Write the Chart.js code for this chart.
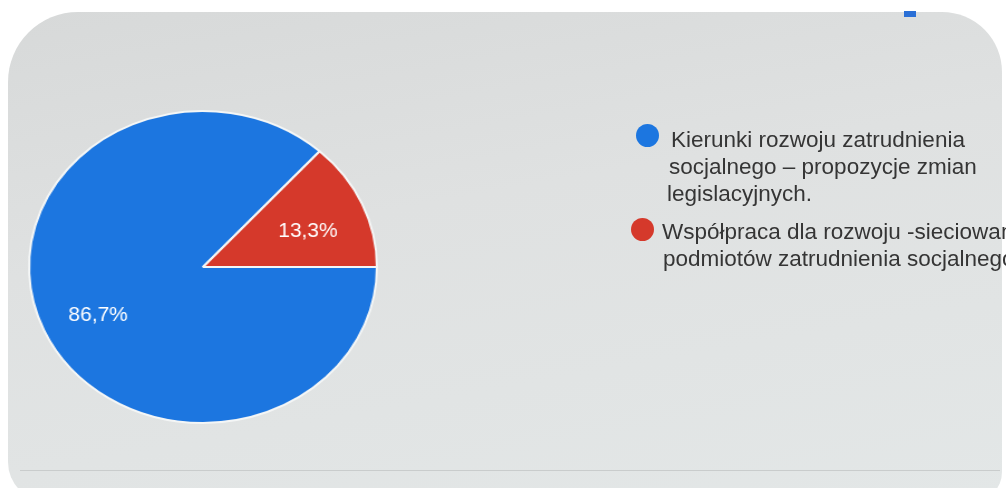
<!DOCTYPE html>
<html>
<head>
<meta charset="utf-8">
<script src="https://cdn.jsdelivr.net/npm/chart.js@4/dist/chart.umd.min.js"></script>
<style>
  html,body{margin:0;padding:0;background:#fff;overflow:hidden}
  #frame{position:absolute;left:8px;top:12px;width:994px;height:490px;border-radius:70px 60px 30px 40px;
    background:linear-gradient(170deg,#d7d9d9 0%,#dfe1e1 40%,#e3e7e7 100%);overflow:hidden}
  #mark{position:absolute;left:904px;top:11px;width:12px;height:6px;background:#2a6fd6}
  #wrap{position:absolute;left:0;top:0;width:1006px;height:488px;transform:scale(1.115,1);transform-origin:203px 267px}
  #legend{position:absolute;left:0;top:0;font-family:"Liberation Sans",Arial,sans-serif;font-size:22.5px;color:#353535}
  .item{position:absolute;white-space:nowrap;line-height:27px}
  .dot{position:absolute;width:23px;height:23px;border-radius:50%}
  #bottomline{position:absolute;left:20px;top:470px;width:980px;height:1px;background:#c9cccc}
</style>
</head>
<body>
<div id="frame"></div>
<div id="bottomline"></div>
<div id="mark"></div>
<div id="wrap"><canvas id="c"></canvas></div>
<div id="legend"></div>
<script>
const labels = ['Kierunki rozwoju zatrudnienia socjalnego – propozycje zmian legislacyjnych.', 'Współpraca dla rozwoju -sieciowanie podmiotów zatrudnienia socjalnego'];
const legendLines = [
  ['Kierunki rozwoju zatrudnienia', 'socjalnego – propozycje zmian', 'legislacyjnych.'],
  ['Współpraca dla rozwoju -sieciowanie', 'podmiotów zatrudnienia socjalnego']
];
const values = [86.7, 13.3];
const pctText = ['86,7%', '13,3%'];
const colors = ['#1c76e0', '#d5392b'];

// labels inside slices, Google style
const sliceLabels = {
  id:'sliceLabels',
  afterDatasetsDraw(chart){
    const ctx = chart.ctx;
    const meta = chart.getDatasetMeta(0);
    ctx.save();
    ctx.fillStyle = '#fff';
    ctx.font = '21px "Liberation Sans", Arial, sans-serif';
    ctx.textAlign = 'center'; ctx.textBaseline = 'middle';
    meta.data.forEach((arc,i)=>{
      const mid = (arc.startAngle + arc.endAngle)/2;
      const r = arc.outerRadius*0.66;
      ctx.save();
      const x = arc.x + Math.cos(mid)*r, y = arc.y + Math.sin(mid)*r + 6;
      ctx.translate(x, y); ctx.scale(1/1.115, 1);
      ctx.fillText(pctText[i], 0, 0);
      ctx.restore();
    });
    ctx.restore();
  }
};

new Chart(document.getElementById('c'), {
  type:'pie',
  data:{ labels: labels, datasets:[{ data: values, backgroundColor: colors, borderColor:'#f4f6f6', borderWidth:2 }] },
  options:{
    responsive:true, maintainAspectRatio:false, animation:false,
    rotation:90,
    layout:{ padding:{ left:46, top:110, right:646, bottom:64 } },
    plugins:{ legend:{ display:false }, tooltip:{ enabled:false } }
  },
  plugins:[sliceLabels]
});

// legend
const lg = document.getElementById('legend');
const pos = [{dot:[636,124], x:671, y:126, step:-2}, {dot:[631,218], x:662, y:218, step:1}];
legendLines.forEach((lines,i)=>{
  const d = document.createElement('div'); d.className='dot';
  d.style.left = pos[i].dot[0]+'px'; d.style.top = pos[i].dot[1]+'px'; d.style.background = colors[i];
  lg.appendChild(d);
  lines.forEach((t,j)=>{
    const s = document.createElement('div'); s.className='item';
    s.style.left = (pos[i].x + j*pos[i].step)+'px';
    s.style.top = (pos[i].y + j*27)+'px';
    s.textContent = t;
    lg.appendChild(s);
  });
});
</script>
</body>
</html>
